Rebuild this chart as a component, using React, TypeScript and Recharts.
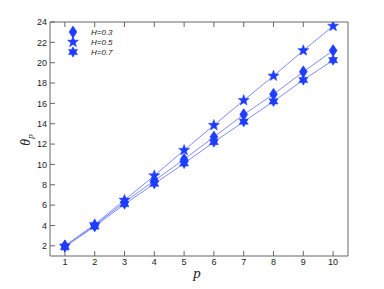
import { LineChart, Line, XAxis, YAxis } from 'recharts'

const P = [1, 2, 3, 4, 5, 6, 7, 8, 9, 10]
const H03 = [2.0, 4.0, 6.3, 8.4, 10.5, 12.7, 14.9, 16.9, 19.1, 21.2]
const H05 = [2.0, 4.1, 6.5, 8.9, 11.4, 13.85, 16.3, 18.7, 21.2, 23.6]
const H07 = [1.9, 3.9, 6.1, 8.1, 10.1, 12.2, 14.2, 16.2, 18.3, 20.25]
const X_TICKS = [1, 2, 3, 4, 5, 6, 7, 8, 9, 10]
const Y_TICKS = [2, 4, 6, 8, 10, 12, 14, 16, 18, 20, 22, 24]
const SERIES = [
  { key: 'h03', name: 'H=0.3', shape: 'diamond' },
  { key: 'h05', name: 'H=0.5', shape: 'star5' },
  { key: 'h07', name: 'H=0.7', shape: 'star6' },
]

const data = P.map((p, i) => ({ p, h03: H03[i], h05: H05[i], h07: H07[i] }))

const MARK = '#1f3dff'
const LINE = '#7f8cff'
const AXIS = '#666'

const star = (cx: number, cy: number, n: number, ro: number, ri: number) => {
  const pts: string[] = []
  for (let k = 0; k < n * 2; k++) {
    const r = k % 2 === 0 ? ro : ri
    const a = -Math.PI / 2 + (k * Math.PI) / n
    pts.push(`${cx + r * Math.cos(a)},${cy + r * Math.sin(a)}`)
  }
  return pts.join(' ')
}

function Marker({ cx, cy, shape }: { cx: number; cy: number; shape: string }) {
  let pts = ''
  if (shape === 'diamond') pts = `${cx},${cy - 6} ${cx + 4},${cy} ${cx},${cy + 6} ${cx - 4},${cy}`
  else if (shape === 'star5') pts = star(cx, cy, 5, 5.8, 2.4)
  else pts = star(cx, cy, 6, 5.2, 3)
  return <polygon points={pts} fill={MARK} stroke={MARK} strokeWidth={0.5} />
}

const tickStyle = { fontSize: 9, fill: '#222', fontFamily: "'Liberation Sans', Arial, sans-serif" }

export default function App() {
  return (
    <div style={{ position: 'fixed', left: 0, top: 0, width: 384, height: 289, background: '#fff' }}>
      <LineChart width={384} height={289} data={data}
        margin={{ top: 21, right: 35, left: 0, bottom: 0 }}>
        <XAxis dataKey="p" type="number" domain={[0.5, 10.5]} ticks={X_TICKS}
          height={33} tickSize={-5} tickMargin={8} tick={tickStyle}
          stroke={AXIS} allowDataOverflow />
        <XAxis xAxisId="top" orientation="top" dataKey="p" type="number" domain={[0.5, 10.5]}
          ticks={X_TICKS} height={1} tickSize={-5} tickFormatter={() => ''} stroke={AXIS} />
        <YAxis type="number" domain={[1, 24]} ticks={Y_TICKS} width={50}
          tickSize={-5} tickMargin={8} tick={tickStyle} stroke={AXIS} allowDataOverflow />
        <YAxis yAxisId="right" orientation="right" type="number" domain={[1, 24]}
          ticks={Y_TICKS} width={1} tickSize={-5} tickFormatter={() => ''} stroke={AXIS} />
        {SERIES.map(s => (
          <Line key={s.key} dataKey={s.key} name={s.name} stroke={LINE} strokeWidth={1}
            isAnimationActive={false} legendType="none"
            dot={(props: any) => <Marker key={`${s.key}-${props.index}`} cx={props.cx} cy={props.cy} shape={s.shape} />}
            activeDot={false} />
        ))}
        {/* legend, no box */}
        <g>
          {SERIES.map((s, i) => (
            <g key={s.key}>
              <Marker cx={73} cy={32 + i * 10} shape={s.shape} />
              <text x={91} y={35 + i * 10} fontSize={8} fontStyle="italic" fill="#222"
                fontFamily="'Liberation Sans', Arial, sans-serif">{s.name}</text>
            </g>
          ))}
        </g>
        <text x={197} y={278} textAnchor="middle" fontSize={15} fontStyle="italic"
          fontFamily="'Liberation Serif', serif" fill="#222">p</text>
        <text x={30} y={140} textAnchor="middle" fontSize={14} fontStyle="italic"
          fontFamily="'Liberation Serif', serif" fill="#222"
          transform="rotate(-90 30 140)">θ<tspan fontSize={9} dy={3}>p</tspan></text>
      </LineChart>
    </div>
  )
}
